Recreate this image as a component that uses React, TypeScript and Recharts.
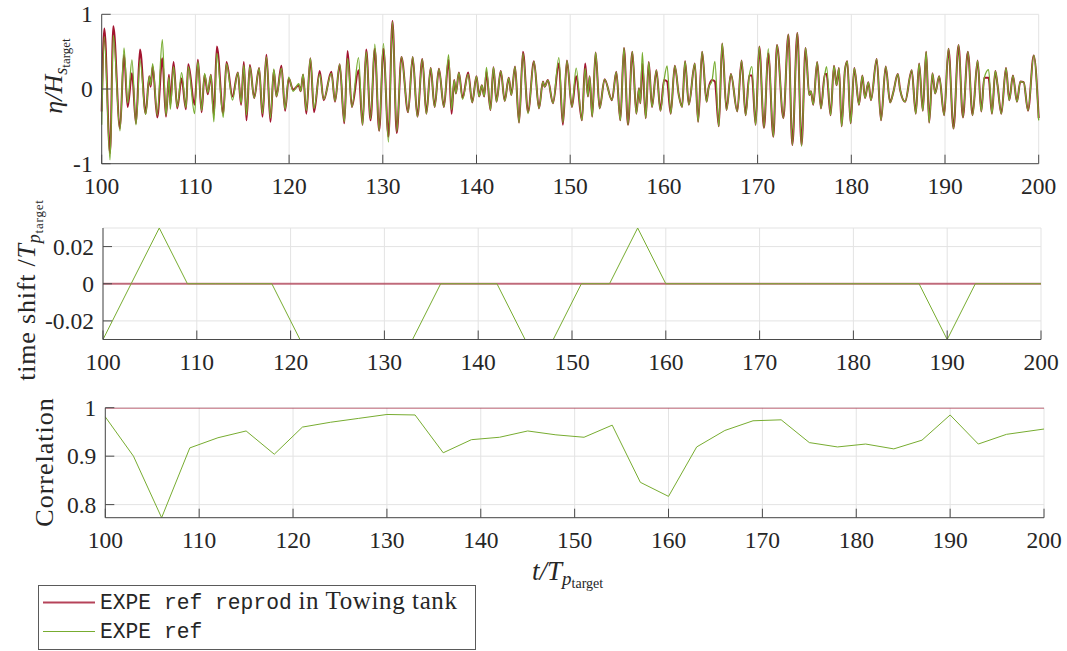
import React from 'react';
import { LineChart, Line, XAxis, YAxis, CartesianGrid } from 'recharts';

const RED = '#A2142F';
const GREEN = '#77AC30';
const AXIS = '#4a4a4a';
const GRID = '#e3e3e3';
const INK = '#262626';
const SERIF = "'Liberation Serif', 'Times New Roman', serif";
const MONO = "'Liberation Mono', 'Courier New', monospace";

// free-surface elevation (crests / troughs)
const waveT = [
  100.0, 100.28, 100.89, 101.24, 101.95, 102.38, 102.77, 103.23, 103.66, 104.09,
  104.69, 105.08, 105.22, 105.44, 105.93, 106.47, 106.86, 107.18, 107.32, 107.67,
  108.06, 108.53, 108.99, 109.24, 109.91, 110.27, 110.66, 110.98, 111.33, 111.65,
  111.97, 112.29, 112.97, 113.32, 113.96, 114.53, 114.88, 115.17, 115.45, 115.81,
  116.27, 116.8, 117.16, 117.58, 118.01, 118.37, 118.65, 119.18, 119.57, 119.96,
  120.43, 121.03, 121.24, 121.49, 121.84, 122.27, 122.66, 123.27, 123.69, 124.51,
  124.9, 125.4, 125.89, 126.24, 126.7, 127.41, 127.84, 128.23, 128.69, 129.15,
  129.61, 130.07, 130.6, 131.03, 131.49, 131.99, 132.7, 133.19, 133.69, 134.22,
  134.65, 135.11, 135.53, 135.99, 136.52, 137.02, 137.34, 137.62, 137.8, 138.12,
  138.51, 139.11, 139.54, 140.0, 140.28, 140.57, 140.82, 141.06, 141.49, 141.81,
  142.13, 142.59, 143.01, 143.44, 143.72, 144.11, 144.54, 144.96, 145.5, 146.13,
  146.67, 147.09, 147.27, 147.62, 148.16, 148.79, 149.22, 149.65, 150.18, 150.64,
  151.25, 151.6, 151.89, 152.07, 152.35, 152.71, 153.14, 153.67, 154.46, 154.92,
  155.35, 155.74, 156.17, 156.63, 157.06, 157.34, 157.49, 157.7, 158.06, 158.38,
  158.73, 159.2, 159.63, 160.02, 160.34, 160.73, 161.16, 161.59, 161.94, 162.26,
  162.66, 163.3, 163.65, 164.08, 164.55, 164.76, 165.15, 165.44, 165.86, 166.22,
  166.68, 167.15, 167.83, 168.29, 168.72, 169.11, 169.39, 169.79, 170.18, 170.68,
  171.14, 171.68, 172.07, 172.75, 173.28, 173.71, 174.24, 174.69, 175.12, 175.51,
  175.69, 175.94, 176.36, 176.76, 177.18, 177.36, 177.79, 178.15, 178.43, 178.68,
  178.97, 179.32, 179.57, 179.93, 180.32, 180.82, 181.18, 181.46, 181.82, 182.1,
  182.71, 183.17, 183.67, 184.14, 184.49, 184.96, 185.21, 185.74, 186.45, 186.88,
  187.24, 187.63, 187.99, 188.31, 188.66, 188.95, 189.38, 189.91, 190.37, 190.91,
  191.44, 191.91, 192.44, 192.94, 193.48, 193.87, 194.19, 194.65, 195.01, 195.37,
  195.61, 196.01, 196.51, 196.86, 197.25, 197.68, 198.04, 198.4, 198.86, 199.47,
  200.0,
];

const waveReprod = [
  -0.3, 0.81, -0.86, 0.84, -0.53, 0.46, -0.24, 0.21, -0.46, 0.53,
  -0.33, 0.17, 0.03, 0.3, -0.38, 0.41, -0.37, 0.19, -0.21, 0.36,
  -0.26, 0.14, -0.27, 0.33, -0.21, 0.39, -0.31, 0.19, -0.07, 0.19,
  -0.35, 0.57, -0.33, 0.36, -0.1, 0.22, -0.21, 0.36, -0.42, 0.32,
  -0.12, 0.28, -0.37, 0.46, -0.44, 0.25, -0.1, 0.31, -0.29, 0.14,
  -0.01, 0.05, -0.03, 0.19, -0.33, 0.41, -0.31, 0.24, -0.15, 0.23,
  -0.17, 0.33, -0.46, 0.51, -0.24, 0.25, -0.48, 0.53, -0.42, 0.54,
  -0.56, 0.54, -0.64, 0.91, -0.59, 0.43, -0.31, 0.43, -0.37, 0.4,
  -0.33, 0.28, -0.24, 0.27, -0.24, 0.39, -0.33, 0.12, -0.06, 0.22,
  -0.12, 0.22, -0.18, 0.17, -0.1, 0.05, -0.1, 0.23, -0.28, 0.29,
  -0.17, 0.24, -0.16, 0.15, -0.08, 0.3, -0.45, 0.5, -0.31, 0.37,
  -0.26, 0.1, 0.03, 0.12, -0.19, 0.34, -0.48, 0.38, -0.24, 0.17,
  -0.42, 0.34, -0.1, 0.17, -0.37, 0.49, -0.26, 0.13, -0.15, 0.23,
  -0.42, 0.55, -0.48, 0.5, -0.33, 0.01, -0.19, 0.34, -0.39, 0.36,
  -0.24, 0.25, -0.29, 0.12, 0.1, -0.33, 0.31, -0.08, -0.24, 0.37,
  -0.21, 0.34, -0.44, 0.5, -0.17, 0.01, 0.12, 0.1, -0.5, 0.61,
  -0.28, 0.2, -0.3, 0.38, -0.35, 0.18, 0.18, -0.48, 0.57, -0.52,
  0.48, -0.64, 0.59, -0.39, 0.73, -0.75, 0.75, -0.75, 0.55, -0.08,
  -0.03, -0.21, 0.36, -0.26, 0.2, 0.2, -0.35, 0.31, 0.05, 0.28,
  -0.5, 0.25, 0.37, -0.46, 0.28, -0.21, 0.18, -0.12, 0.09, -0.15,
  0.4, -0.42, 0.3, -0.18, -0.04, 0.2, -0.01, -0.17, 0.25, -0.33,
  0.34, -0.29, 0.5, -0.45, 0.21, -0.06, 0.17, -0.35, 0.54, -0.53,
  0.59, -0.38, 0.5, -0.35, 0.38, -0.3, 0.15, 0.15, -0.33, 0.24,
  0.05, -0.33, 0.28, -0.15, 0.18, -0.17, 0.1, 0.09, -0.29, 0.45,
  -0.39,
];

const waveRef = [
  -0.48, 0.7, -0.95, 0.72, -0.56, 0.55, -0.19, 0.39, -0.48, 0.39,
  -0.34, 0.17, 0.05, 0.34, -0.35, 0.66, -0.35, 0.16, -0.27, 0.3,
  -0.24, 0.22, -0.25, 0.3, -0.33, 0.37, -0.29, 0.21, -0.05, 0.19,
  -0.44, 0.48, -0.38, 0.34, -0.15, 0.22, -0.19, 0.32, -0.35, 0.3,
  -0.12, 0.28, -0.33, 0.43, -0.39, 0.27, -0.1, 0.28, -0.27, 0.16,
  -0.03, 0.07, -0.03, 0.2, -0.29, 0.41, -0.26, 0.2, -0.14, 0.21,
  -0.16, 0.33, -0.44, 0.41, -0.24, 0.42, -0.48, 0.5, -0.4, 0.6,
  -0.56, 0.61, -0.71, 0.9, -0.57, 0.43, -0.31, 0.43, -0.37, 0.4,
  -0.33, 0.28, -0.24, 0.27, -0.24, 0.46, -0.28, 0.12, -0.06, 0.22,
  -0.14, 0.2, -0.18, 0.17, -0.1, 0.05, -0.1, 0.29, -0.28, 0.29,
  -0.17, 0.24, -0.16, 0.15, -0.08, 0.3, -0.45, 0.48, -0.33, 0.37,
  -0.26, 0.1, 0.03, 0.12, -0.19, 0.42, -0.45, 0.38, -0.24, 0.28,
  -0.42, 0.28, -0.1, 0.17, -0.37, 0.49, -0.26, 0.13, -0.15, 0.23,
  -0.42, 0.55, -0.48, 0.5, -0.33, 0.01, -0.19, 0.49, -0.39, 0.36,
  -0.24, 0.25, -0.29, 0.12, 0.31, -0.33, 0.31, -0.08, -0.24, 0.37,
  -0.21, 0.34, -0.44, 0.5, -0.17, 0.01, 0.12, 0.37, -0.5, 0.61,
  -0.28, 0.2, -0.3, 0.38, -0.35, 0.18, 0.3, -0.48, 0.57, -0.52,
  0.54, -0.64, 0.59, -0.39, 0.73, -0.75, 0.75, -0.77, 0.55, -0.08,
  -0.03, -0.21, 0.36, -0.26, 0.2, 0.3, -0.35, 0.31, 0.05, 0.28,
  -0.5, 0.25, 0.37, -0.46, 0.28, -0.21, 0.18, -0.12, 0.09, -0.15,
  0.4, -0.42, 0.3, -0.18, -0.04, 0.2, -0.01, -0.17, 0.25, -0.33,
  0.34, -0.29, 0.5, -0.45, 0.21, -0.06, 0.17, -0.35, 0.54, -0.53,
  0.59, -0.38, 0.5, -0.35, 0.38, -0.3, 0.15, 0.26, -0.33, 0.24,
  0.05, -0.33, 0.28, -0.15, 0.18, -0.17, 0.1, 0.09, -0.29, 0.45,
  -0.42,
];

// analysis windows
const winT = [
  100, 103, 106, 109, 112, 115, 118, 121, 124, 127, 130, 133, 136, 139, 142, 145, 148,
  151, 154, 157, 160, 163, 166, 169, 172, 175, 178, 181, 184, 187, 190, 193, 196, 200,
];
const shiftReprod = [
  0, 0, 0, 0, 0, 0, 0, 0, 0, 0, 0, 0, 0, 0, 0, 0, 0,
  0, 0, 0, 0, 0, 0, 0, 0, 0, 0, 0, 0, 0, 0, 0, 0, 0,
];
const shiftRef = [
  -0.03, 0, 0.03, 0, 0, 0, 0, -0.03, -0.03, -0.03, -0.03, -0.03, 0, 0, 0, -0.03, -0.03,
  0, 0, 0.03, 0, 0, 0, 0, 0, 0, 0, 0, 0, 0, -0.03, 0, 0, 0,
];
const corrReprod = [
  1, 1, 1, 1, 1, 1, 1, 1, 1, 1, 1, 1, 1, 1, 1, 1, 1,
  1, 1, 1, 1, 1, 1, 1, 1, 1, 1, 1, 1, 1, 1, 1, 1, 1,
];
const corrRef = [
  0.981, 0.9, 0.773, 0.917, 0.938, 0.952, 0.904, 0.96, 0.97, 0.978, 0.986, 0.985, 0.907,
  0.934, 0.939, 0.952, 0.944, 0.939, 0.964, 0.846, 0.817, 0.919, 0.953, 0.973, 0.975,
  0.928, 0.919, 0.925, 0.915, 0.933, 0.985, 0.925, 0.945, 0.956,
];

const xTicks = [100, 110, 120, 130, 140, 150, 160, 170, 180, 190, 200];

const waveData = waveT.map((t, i) => ({ t, reprod: waveReprod[i], ref: waveRef[i] }));
const winData = winT.map((t, i) => ({
  t,
  shiftReprod: shiftReprod[i],
  shiftRef: shiftRef[i],
  corrReprod: corrReprod[i],
  corrRef: corrRef[i],
}));

const serifStyle = { fontFamily: SERIF };
const monoStyle = { fontFamily: MONO };

// MATLAB-style ticks: marks point inward, labels outside
const XTick = (props: any) => {
  const { x, y, payload } = props;
  return (
    <g>
      <line x1={x} x2={x} y1={y} y2={y - 9} stroke={AXIS} />
      <text x={x} y={y + 30} textAnchor="middle" fontSize={23.5} fill={INK} style={serifStyle}>
        {payload.value}
      </text>
    </g>
  );
};

const YTick = (props: any) => {
  const { x, y, payload } = props;
  return (
    <g>
      <line x1={x} x2={x + 9} y1={y} y2={y} stroke={AXIS} />
      <text x={x - 9} y={y + 8} textAnchor="end" fontSize={23.5} fill={INK} style={serifStyle}>
        {String(payload.value)}
      </text>
    </g>
  );
};

const xAxisProps = {
  dataKey: 't',
  type: 'number' as const,
  domain: [100, 200],
  ticks: xTicks,
  interval: 0,
  height: 30,
  tickSize: 0,
  tickMargin: 0,
  tickLine: false,
  axisLine: { stroke: AXIS },
  tick: XTick,
};

const yAxisProps = {
  type: 'number' as const,
  interval: 0,
  width: 60,
  tickSize: 0,
  tickMargin: 0,
  tickLine: false,
  axisLine: { stroke: AXIS },
  tick: YTick,
  allowDataOverflow: true,
};

const App: React.FC = () => {
  return (
    <div style={{ position: 'absolute', left: 0, top: 0, width: 1067, height: 651, background: '#fff' }}>
      <div style={{ position: 'absolute', left: 0, top: 0 }}>
        <LineChart width={1067} height={210} data={waveData} margin={{ top: 14.3, right: 28.3, bottom: 16.3, left: 41.7 }}>
          <CartesianGrid stroke={GRID} />
          <XAxis {...xAxisProps} />
          <YAxis {...yAxisProps} domain={[-1, 1]} ticks={[-1, 0, 1]} />
          <Line type="monotone" dataKey="reprod" stroke={RED} strokeWidth={2} dot={false} isAnimationActive={false} />
          <Line type="monotone" dataKey="ref" stroke={GREEN} strokeWidth={1.3} dot={false} isAnimationActive={false} />
        </LineChart>
      </div>

      <div style={{ position: 'absolute', left: 0, top: 200 }}>
        <LineChart width={1067} height={185} data={winData} margin={{ top: 28, right: 26, bottom: 15.5, left: 43 }}>
          <CartesianGrid stroke={GRID} />
          <XAxis {...xAxisProps} />
          <YAxis {...yAxisProps} domain={[-0.03, 0.03]} ticks={[-0.02, 0, 0.02]} />
          <Line type="linear" dataKey="shiftReprod" stroke={RED} strokeOpacity={0.6} strokeWidth={2} dot={false} isAnimationActive={false} />
          <Line type="linear" dataKey="shiftRef" stroke={GREEN} strokeWidth={1} dot={false} isAnimationActive={false} />
        </LineChart>
      </div>

      <div style={{ position: 'absolute', left: 0, top: 370 }}>
        <LineChart width={1067} height={195} data={winData} margin={{ top: 37.7, right: 23, bottom: 17.3, left: 45.3 }}>
          <CartesianGrid stroke={GRID} />
          <XAxis {...xAxisProps} />
          <YAxis {...yAxisProps} domain={[0.773, 1]} ticks={[0.8, 0.9, 1]} />
          <Line type="linear" dataKey="corrReprod" stroke={RED} strokeOpacity={0.6} strokeWidth={2} dot={false} isAnimationActive={false} />
          <Line type="linear" dataKey="corrRef" stroke={GREEN} strokeWidth={1} dot={false} isAnimationActive={false} />
        </LineChart>
      </div>

      {/* axis titles and legend */}
      <svg width={1067} height={651} style={{ position: 'absolute', left: 0, top: 0, pointerEvents: 'none' }}>
        <text transform="translate(62,76) rotate(-90)" textAnchor="middle" fontSize={26} fill={INK} style={serifStyle}>
          <tspan fontStyle="italic">η/H</tspan>
          <tspan fontStyle="italic" fontSize={18} dy={5}>s</tspan>
          <tspan fontSize={13} dy={3}>target</tspan>
        </text>
        <text transform="translate(35,290) rotate(-90)" textAnchor="middle" fontSize={26} letterSpacing={0.8} fill={INK} style={{ ...serifStyle, whiteSpace: 'pre' }}>
          <tspan>time shift /</tspan>
          <tspan fontStyle="italic">T</tspan>
          <tspan fontStyle="italic" fontSize={18} dy={5}>p</tspan>
          <tspan fontSize={13} dy={3}>target</tspan>
        </text>
        <text transform="translate(53,462) rotate(-90)" textAnchor="middle" fontSize={26} letterSpacing={1} fill={INK} style={serifStyle}>
          Correlation
        </text>
        <text x={532} y={580} fontSize={27} fill={INK} style={serifStyle}>
          <tspan fontStyle="italic">t/T</tspan>
          <tspan fontStyle="italic" fontSize={19} dy={5}>p</tspan>
          <tspan fontSize={14} dy={3}>target</tspan>
        </text>

        <rect x={38.5} y={585.5} width={437} height={64} fill="#fff" stroke="#5a5a5a" />
        <line x1={43} x2={95} y1={602.5} y2={602.5} stroke={RED} strokeWidth={2} strokeOpacity={0.8} />
        <line x1={43} x2={95} y1={631.5} y2={631.5} stroke={GREEN} strokeWidth={1} />
        <text x={100} y={609} fill={INK} style={{ whiteSpace: 'pre' }}>
          <tspan fontSize={21.3} style={monoStyle}>EXPE ref reprod</tspan>
          <tspan fontSize={25} letterSpacing={0.6} style={serifStyle}> in Towing tank</tspan>
        </text>
        <text x={100} y={638} fill={INK} fontSize={21.3} style={monoStyle}>
          EXPE ref
        </text>
      </svg>
    </div>
  );
};

export default App;
